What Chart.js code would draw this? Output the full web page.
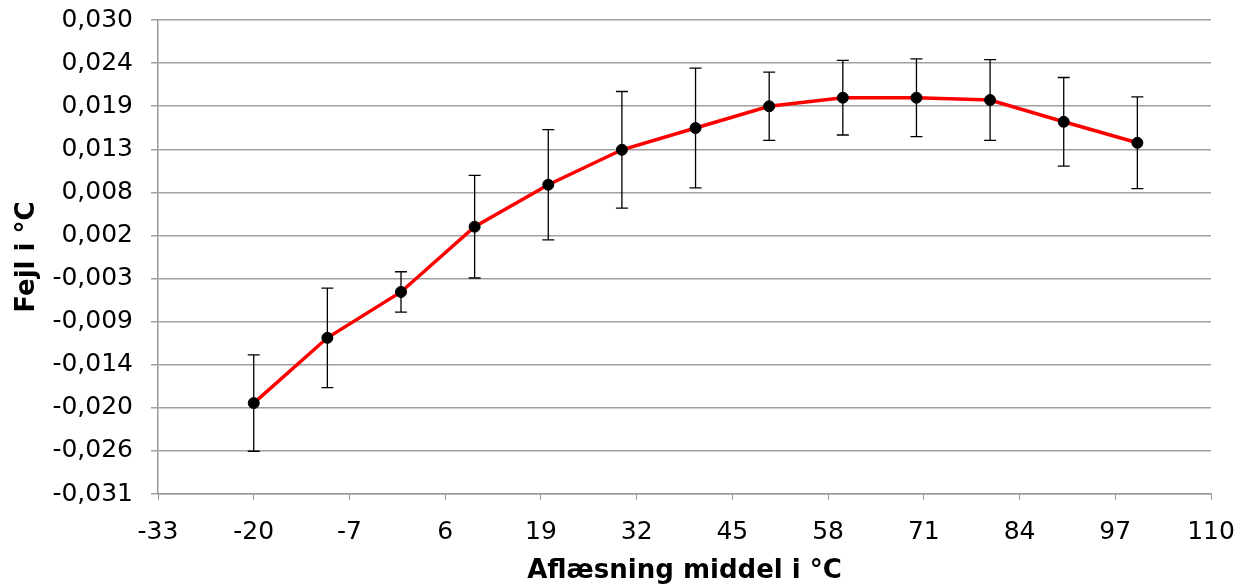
<!DOCTYPE html>
<html>
<head>
<meta charset="utf-8">
<script src="https://cdn.jsdelivr.net/npm/chart.js@4/dist/chart.umd.min.js"></script>
<style>
    html, body { margin: 0; padding: 0; background: #ffffff; }
    #wrap { width: 1241px; height: 584px; }
</style>
</head>
<body>
<div id="wrap"><canvas id="errChart" width="1241" height="584"></canvas></div>
<script>
// Measured readings (x) and error with uncertainty
const readings = [-20, -10, 0, 10, 20, 30, 40, 50, 60, 70, 80, 90, 100];
const errors = [-0.0193, -0.0109, -0.0050, 0.0034, 0.0088, 0.0133, 0.0161, 0.0189, 0.0200, 0.0200, 0.0197, 0.0169, 0.0142];
const uncertainty = [0.0062, 0.0064, 0.0026, 0.0066, 0.0071, 0.0075, 0.0077, 0.0044, 0.0048, 0.0050, 0.0052, 0.0057, 0.0059];

const yTickLabels = ['-0,031', '-0,026', '-0,020', '-0,014', '-0,009', '-0,003',
                     '0,002', '0,008', '0,013', '0,019', '0,024', '0,030'];
const xTickLabels = ['-33', '-20', '-7', '6', '19', '32', '45', '58', '71', '84', '97', '110'];

const yMin = -0.031, yMax = 0.030;
const xMin = -33, xMax = 110;

const fontFamily = '"DejaVu Sans", Verdana, sans-serif';

// Draw vertical error bars with caps using the chart scales
const errorBarPlugin = {
    id: 'errorBars',
    beforeDatasetsDraw(chart) {
        const ctx = chart.ctx;
        const xs = chart.scales.x;
        const ys = chart.scales.y;
        ctx.save();
        ctx.strokeStyle = '#000000';
        ctx.lineWidth = 1.3;
        readings.forEach((r, i) => {
            const px = xs.getPixelForValue(r);
            const top = ys.getPixelForValue(errors[i] + uncertainty[i]);
            const bot = ys.getPixelForValue(errors[i] - uncertainty[i]);
            ctx.beginPath();
            ctx.moveTo(px, top);
            ctx.lineTo(px, bot);
            ctx.moveTo(px - 6, top);
            ctx.lineTo(px + 6, top);
            ctx.moveTo(px - 6, bot);
            ctx.lineTo(px + 6, bot);
            ctx.stroke();
        });
        ctx.restore();
    }
};

const ctx = document.getElementById('errChart');

new Chart(ctx, {
    type: 'scatter',
    data: {
        datasets: [{
            data: readings.map((r, i) => ({ x: r, y: errors[i] })),
            showLine: true,
            borderColor: '#ff0000',
            borderWidth: 3.5,
            pointBackgroundColor: '#000000',
            pointBorderColor: '#000000',
            pointRadius: 5.5,
            pointBorderWidth: 1,
            tension: 0
        }]
    },
    plugins: [errorBarPlugin],
    options: {
        responsive: false,
        animation: false,
        layout: {
            padding: { top: 20, right: 30, left: 12, bottom: 0 }
        },
        plugins: {
            legend: { display: false },
            tooltip: { enabled: false }
        },
        scales: {
            x: {
                type: 'linear',
                min: xMin,
                max: xMax,
                afterBuildTicks: scale => {
                    scale.ticks = xTickLabels.map((l, i) => ({ value: xMin + i * (xMax - xMin) / (xTickLabels.length - 1) }));
                },
                afterFit: scale => {
                    scale.height = 90;
                    scale.paddingLeft = 0;
                    scale.paddingRight = 0;
                },
                ticks: {
                    color: '#000000',
                    font: { family: fontFamily, size: 25 },
                    padding: 17,
                    maxRotation: 0,
                    callback: (v, i) => xTickLabels[i]
                },
                grid: {
                    display: true,
                    drawOnChartArea: false,
                    drawTicks: true,
                    tickLength: 6,
                    color: '#999999'
                },
                border: { display: true, color: '#999999', width: 1.5 },
                title: {
                    display: true,
                    text: 'Aflæsning middel i °C',
                    color: '#000000',
                    font: { family: fontFamily, size: 26, weight: 'bold' },
                    padding: { top: 0, bottom: -3 }
                }
            },
            y: {
                type: 'linear',
                min: yMin,
                max: yMax,
                afterBuildTicks: scale => {
                    scale.ticks = yTickLabels.map((l, i) => ({ value: yMin + i * (yMax - yMin) / (yTickLabels.length - 1) }));
                },
                afterFit: scale => {
                    scale.width = 146;
                    scale.paddingTop = 0;
                    scale.paddingBottom = 0;
                },
                ticks: {
                    color: '#000000',
                    font: { family: fontFamily, size: 25 },
                    padding: 18,
                    callback: (v, i) => yTickLabels[i]
                },
                grid: {
                    color: '#a0a0a0',
                    lineWidth: 1.5,
                    tickLength: 7
                },
                border: { display: true, color: '#999999', width: 1.5 },
                title: {
                    display: true,
                    text: 'Fejl i °C',
                    color: '#000000',
                    font: { family: fontFamily, size: 26, weight: 'bold' },
                    padding: { top: 0, bottom: 0 }
                }
            }
        }
    }
});
</script>
</body>
</html>
